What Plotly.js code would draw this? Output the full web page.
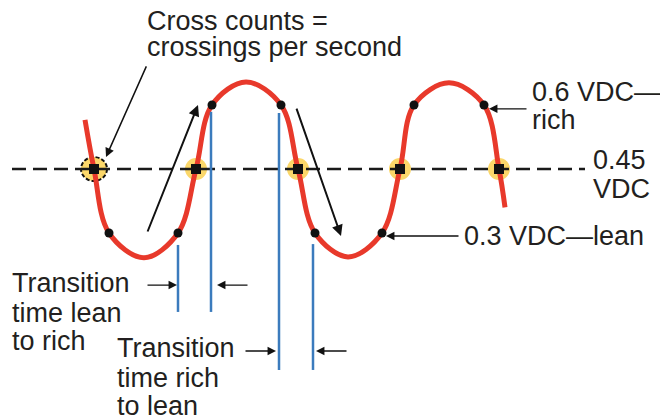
<!DOCTYPE html>
<html><head><meta charset="utf-8">
<script src="https://cdn.plot.ly/plotly-3.0.1.min.js"></script>
<style>html,body{margin:0;padding:0;background:#fff}#chart{width:660px;height:418px}</style>
</head><body><div id="chart"></div>
<script>
// O2 sensor waveform (time units, volts)
const waveT = [85, 94, 109, 144, 178, 196, 212, 246, 281, 298, 315, 348, 382, 400, 414, 449, 484, 499, 505];
const waveV = [0.565, 0.45, 0.30, 0.242, 0.30, 0.45, 0.60, 0.654, 0.60, 0.45, 0.30, 0.244, 0.30, 0.45, 0.60, 0.652, 0.60, 0.45, 0.36];
const threshold = 0.45;
const richV = 0.60, leanV = 0.30;
const crossT = [94, 196, 298, 400, 499];
const richT = [212, 281, 414, 484];
const leanT = [109, 178, 315, 382];
const refLineT = [12, 585];
// transition time markers
const leanToRichT = [178, 211];
const leanToRichTop = [0.272, 0.584];
const leanToRichBottom = 0.115;
const richToLeanT = [279, 313];
const richToLeanTop = [0.581, 0.274];
const richToLeanBottom = -0.021;

const FONT = 'Liberation Sans, Arial, sans-serif';
const TXT = '#231f20';

const traces = [];
traces.push({x: crossT, y: crossT.map(()=>threshold), mode:'markers', marker:{size:22, color:'#fbd76a', line:{width:0}}, hoverinfo:'skip'});
traces.push({x: waveT, y: waveV, mode:'lines', line:{color:'#e8392b', width:5, shape:'spline', smoothing:1}, hoverinfo:'skip'});
traces.push({x: refLineT, y: refLineT.map(()=>threshold), mode:'lines', line:{color:'#1a1a1a', width:2.4, dash:'14px,7px'}, hoverinfo:'skip'});
[leanToRichT, richToLeanT].forEach((arr, k) => {
  const tops = k===0 ? leanToRichTop : richToLeanTop;
  const bot = k===0 ? leanToRichBottom : richToLeanBottom;
  arr.forEach((t,i)=>traces.push({x:[t,t], y:[tops[i], bot], mode:'lines', line:{color:'#3b7bbd', width:2.5}, hoverinfo:'skip'}));
});
traces.push({x: crossT, y: crossT.map(()=>threshold), mode:'markers', marker:{symbol:'square', size:10, color:'#111'}, hoverinfo:'skip'});
traces.push({x: richT.concat(leanT), y: richT.map(()=>richV).concat(leanT.map(()=>leanV)), mode:'markers', marker:{symbol:'circle', size:9, color:'#111'}, hoverinfo:'skip'});

function arrow(x, y, ax, ay, w, size){
  return {x:x, y:y, ax:ax, ay:ay, xref:'x', yref:'y', axref:'x', ayref:'y', showarrow:true, arrowhead:2, arrowsize:size||1, arrowwidth:w||2, arrowcolor:'#111', standoff:0, text:''};
}
function label(x, y, t){
  return {x:x, y:y, xref:'x', yref:'y', text:t, showarrow:false, xanchor:'left', yanchor:'middle', font:{family:FONT, size:27, color:TXT}};
}
const annotations = [
  arrow(106, 0.478, 147, 0.694, 1.5, 1.2),
  arrow(198, 0.60, 147, 0.30, 2, 1.1),
  arrow(341, 0.293, 296, 0.595, 2, 1.1),
  arrow(489, 0.591, 528, 0.591, 1.3, 1.3),
  arrow(386, 0.293, 460, 0.293, 1.3, 1.3),
  arrow(177, 0.178, 146, 0.178, 1.3, 1.3),
  arrow(217, 0.178, 249, 0.178, 1.3, 1.3),
  arrow(276, 0.0234, 244, 0.0234, 1.3, 1.3),
  arrow(316, 0.0234, 348, 0.0234, 1.3, 1.3),
  label(145, 0.797, 'Cross counts ='),
  label(145, 0.736, 'crossings per second'),
  label(530, 0.630, '0.6 VDC—'),
  label(530, 0.565, 'rich'),
  label(591, 0.471, '0.45'),
  label(591, 0.403, 'VDC'),
  label(462, 0.293, '0.3 VDC—lean'),
  label(10, 0.183, 'Transition'),
  label(10, 0.1125, 'time lean'),
  label(10, 0.047, 'to rich'),
  label(115, 0.0305, 'Transition'),
  label(115, -0.040, 'time rich'),
  label(115, -0.1055, 'to lean')
];

const shapes = [{type:'circle', xref:'x', yref:'y', x0: crossT[0]-13, x1: crossT[0]+13, y0: threshold-0.028, y1: threshold+0.028, line:{color:'#111', width:2, dash:'4px,2px'}, fillcolor:'#fbd76a', layer:'below'}];

const layout = {
  width:660, height:418, margin:{l:0,r:0,t:0,b:0}, showlegend:false,
  paper_bgcolor:'#fff', plot_bgcolor:'rgba(0,0,0,0)',
  xaxis:{range:[0,660], visible:false, fixedrange:true},
  yaxis:{range:[-0.1336, 0.8461], visible:false, fixedrange:true},
  annotations: annotations, shapes: shapes
};
Plotly.newPlot('chart', traces, layout, {staticPlot:true, displayModeBar:false});
</script></body></html>
